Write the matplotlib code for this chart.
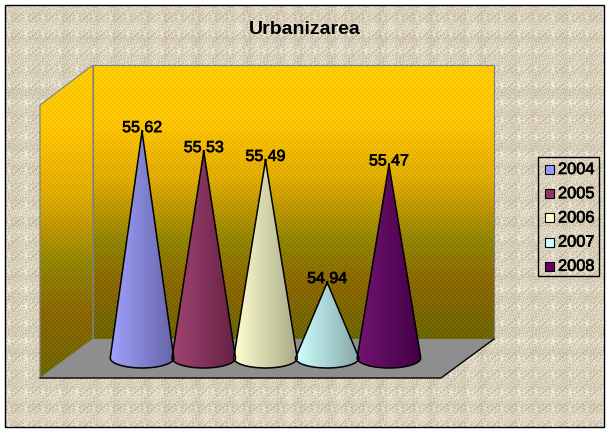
"""Urbanizarea: 3D-looking cone chart, 2004-2008."""

import matplotlib
matplotlib.use("Agg")
import matplotlib.patheffects as effects
import matplotlib.pyplot as plt
import numpy as np
from matplotlib.colors import LinearSegmentedColormap, to_rgb
from matplotlib.patches import PathPatch, Polygon, Rectangle
from matplotlib.path import Path

plt.rcParams["font.family"] = ["Liberation Sans", "DejaVu Sans"]

WIDTH, HEIGHT = 612, 433

years = ["2004", "2005", "2006", "2007", "2008"]
values = [55.62, 55.53, 55.49, 54.94, 55.47]
colors = ["#9999FF", "#993366", "#FFFFCC", "#CCFFFF", "#660066"]
value_labels = ["55,62", "55,53", "55,49", "54,94", "55,47"]

wall_stops = [
    (0.00, "#FFCC00"), (0.20, "#FFC400"), (0.42, "#DDAA00"), (0.52, "#BC9600"),
    (0.64, "#8F8400"), (0.80, "#8A6600"), (1.00, "#6C6600"),
]

BOLD = [effects.withStroke(linewidth=0.5, foreground="black")]


def canvas_texture() -> np.ndarray:
    """Grainy linen look, from a fixed pattern of pixel speckle and threads."""
    yy, xx = np.mgrid[5:427, 5:604]
    speckle = ((xx * xx * 13 + yy * yy * 7 + xx * yy * 3) % 17) / 16 - 0.5
    threads = np.sin(xx * 0.31) * np.sin(xx * 0.07) + np.sin(yy * 0.29) * np.sin(yy * 0.05)
    shade = 0.5 + 0.75 * speckle + 0.10 * threads
    dark = np.array(to_rgb("#BDB69A"))
    light = np.array(to_rgb("#F5F1E2"))
    image = dark + (light - dark) * np.clip(shade, 0, 1)[..., None]
    pink = ((xx * 7 + yy * 3) % 5 == 0)[..., None]
    return np.clip(image + pink * np.array([0.03, -0.03, -0.01]), 0, 1)


def wall_image(top: int, bottom: int) -> np.ndarray:
    """Vertical gradient with an ordered dither, like the 256 colour original."""
    cmap = LinearSegmentedColormap.from_list("wall", wall_stops)
    rows = (np.arange(top, bottom) - top) / (bottom - top)
    image = np.repeat(cmap(rows)[:, None, :3], WIDTH, axis=1)
    yy, xx = np.mgrid[top:bottom, 0:WIDTH]
    dither = (((xx // 2 + yy // 2) % 2) * 2 - 1)[..., None]
    return np.clip(image + 0.025 * dither, 0, 1)


def draw_scene(axis: plt.Axes) -> None:
    """Background, frame, walls and floor, in pixel coordinates."""
    axis.imshow(canvas_texture(), extent=(5, 604, 427, 5), aspect="auto",
                interpolation="nearest", zorder=0)

    back = Polygon([(93, 65), (494, 65), (494, 339), (93, 339)], closed=True,
                   fc="none", ec="#7F7F7F", lw=0.8, zorder=2)
    side = Polygon([(40, 105), (93, 65), (93, 339), (40, 378)], closed=True,
                   fc="none", ec="#7F7F7F", lw=0.8, zorder=2)
    for patch, (left, right, bottom, top) in (
        (back, (93, 494, 339, 65)),
        (side, (40, 93, 378, 65)),
    ):
        axis.add_patch(patch)
        image = axis.imshow(wall_image(top, bottom)[:, left:right],
                            extent=(left, right, bottom, top), aspect="auto",
                            interpolation="nearest", zorder=1)
        image.set_clip_path(patch)

    axis.add_patch(Polygon([(40, 378), (93, 339), (494, 339), (441, 378)],
                           closed=True, fc="#8E8E8E", ec="none", zorder=2))
    axis.plot([40, 441, 494], [378, 378, 339], color="black", lw=1, zorder=3)
    axis.add_patch(Rectangle((5, 5), 599, 422, fc="none", ec="black", lw=1,
                             zorder=4))

    axis.set_xlim(0, WIDTH)
    axis.set_ylim(HEIGHT, 0)
    axis.axis("off")


def draw_cone(axis, center, value, color, base_value, half_width, ellipse_h):
    """Cone from the floor up to value, shaded from left to right."""
    kappa = 0.5523
    left, right = center - half_width, center + half_width
    low = base_value - ellipse_h
    verts = [
        (center, value), (left, base_value),
        (left, base_value - kappa * ellipse_h),
        (center - kappa * half_width, low), (center, low),
        (center + kappa * half_width, low),
        (right, base_value - kappa * ellipse_h), (right, base_value),
        (center, value),
    ]
    codes = [Path.MOVETO, Path.LINETO, Path.CURVE4, Path.CURVE4, Path.CURVE4,
             Path.CURVE4, Path.CURVE4, Path.CURVE4, Path.CLOSEPOLY]
    cone = PathPatch(Path(verts, codes), fc="none", ec="black", lw=1.1, zorder=3)
    axis.add_patch(cone)

    rgb = np.array(to_rgb(color))
    light = rgb * 0.92 + 0.08
    dark = rgb * 0.66
    ramp = np.linspace(0, 1, 64)[None, :, None]
    image = axis.imshow(light + (dark - light) * ramp,
                        extent=(left, right, low, value), aspect="auto",
                        origin="lower", interpolation="bilinear", zorder=2)
    image.set_clip_path(cone)


def main() -> None:
    figure = plt.figure(figsize=(WIDTH / 100, HEIGHT / 100), dpi=100,
                        facecolor="white")

    scene = figure.add_axes([0, 0, 1, 1])
    draw_scene(scene)

    # Value axis runs 54.5 to 55.8 inside the 3D box, the cones stand on 54.6
    plot = figure.add_axes([105 / WIDTH, 1 - 380.2 / HEIGHT, 321 / WIDTH, 288.6 / HEIGHT])
    plot.patch.set_alpha(0)
    base_value = 54.6
    for index, (value, color, label) in enumerate(zip(values, colors, value_labels)):
        draw_cone(plot, index, value, color, base_value, 0.515, 0.045)
        plot.text(index, value + 0.018, label, ha="center", va="center",
                  fontsize=11.5, color="black", zorder=5, path_effects=BOLD)
    plot.set_xlim(-0.6, 4.6)
    plot.set_ylim(54.5, 55.8)
    plot.axis("off")

    figure.text(305 / WIDTH, 1 - 30 / HEIGHT, "Urbanizarea", ha="center",
                va="center", fontsize=14, fontweight="bold", color="black")

    # Legend
    scene.add_patch(Rectangle((538, 157), 61, 119, fc="none", ec="black", lw=1,
                              zorder=4))
    for index, (year, color) in enumerate(zip(years, colors)):
        y = 169.5 + index * 24.2
        scene.add_patch(Rectangle((545, y - 4.5), 9, 9, fc=color, ec="black",
                                  lw=0.8, zorder=4))
        scene.text(558, y, year, ha="left", va="center", fontsize=11.8,
                   color="black", zorder=4, path_effects=BOLD)

    figure.savefig("out.png", dpi=100)


if __name__ == "__main__":
    main()
